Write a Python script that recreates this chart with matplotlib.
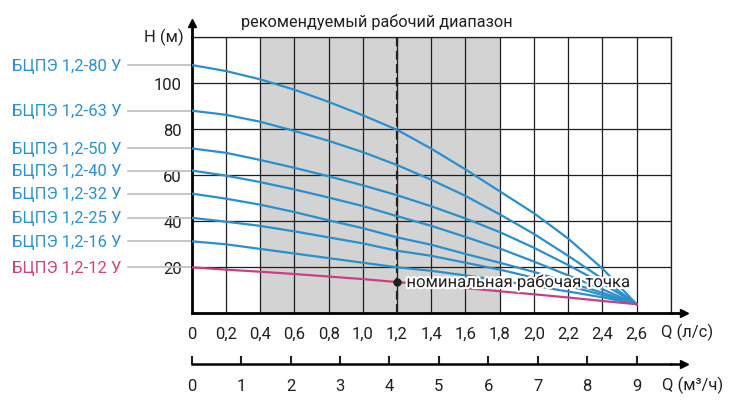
import matplotlib
matplotlib.use("Agg")
import matplotlib.pyplot as plt
import matplotlib.patheffects as pe

# --- Data ---
flow_ls = [0.0, 0.2, 0.4, 0.6, 0.8, 1.0, 1.2, 1.4, 1.6, 1.8, 2.0, 2.2, 2.4, 2.6]

head_80 = [107.8, 105.2, 101.6, 97.1, 91.8, 86.0, 79.7, 71.5, 62.5, 53.0, 43.5, 32.5, 19.5, 4.0]
head_63 = [88.0, 86.2, 83.2, 79.2, 74.9, 70.0, 64.4, 58.0, 51.0, 43.0, 34.5, 25.0, 15.0, 4.0]
head_50 = [71.6, 69.7, 66.6, 63.2, 59.5, 55.6, 51.3, 46.5, 41.2, 35.3, 28.5, 21.0, 13.0, 4.0]
head_40 = [62.0, 59.8, 57.0, 53.8, 50.3, 46.6, 42.2, 38.0, 33.2, 28.2, 22.5, 16.5, 10.5, 4.0]
head_32 = [52.0, 49.8, 47.2, 44.0, 40.4, 37.0, 33.0, 29.8, 25.8, 22.0, 18.0, 13.5, 9.0, 4.0]
head_25 = [41.5, 39.8, 38.0, 35.6, 33.0, 30.4, 27.2, 25.0, 22.0, 19.0, 15.5, 12.0, 8.0, 4.0]
head_16 = [31.3, 30.0, 28.0, 26.0, 24.0, 22.0, 20.0, 18.5, 16.5, 14.3, 12.0, 9.5, 7.0, 4.0]
head_12 = [20.0, 19.0, 18.1, 17.1, 16.0, 14.9, 13.6, 12.3, 11.0, 9.6, 8.3, 6.9, 5.4, 4.0]

models = ["БЦПЭ 1,2-80 У", "БЦПЭ 1,2-63 У", "БЦПЭ 1,2-50 У", "БЦПЭ 1,2-40 У",
          "БЦПЭ 1,2-32 У", "БЦПЭ 1,2-25 У", "БЦПЭ 1,2-16 У", "БЦПЭ 1,2-12 У"]
heads = [head_80, head_63, head_50, head_40, head_32, head_25, head_16, head_12]

flow_ticks = [0, 0.2, 0.4, 0.6, 0.8, 1.0, 1.2, 1.4, 1.6, 1.8, 2.0, 2.2, 2.4, 2.6]
flow_labels = ["0", "0,2", "0,4", "0,6", "0,8", "1,0", "1,2", "1,4", "1,6", "1,8",
               "2,0", "2,2", "2,4", "2,6"]
m3h_ticks = [0, 1, 2, 3, 4, 5, 6, 7, 8, 9]
head_ticks = [20, 40, 60, 80, 100]

range_lo, range_hi = 0.4, 1.8      # recommended working range, l/s
nominal_q, nominal_h = 1.2, 13.6   # nominal duty point

# the catalogue's m3/h scale puts 9 under 2.6 l/s
M3H_PER_LS = 9 / 2.6

# --- Styling ---
BLUE = "#2b8fcc"
PINK = "#c9407f"
LABEL_BLUE = "#2a93d1"
LABEL_PINK = "#d2427f"
DARK = "#231f20"
GRID = "#1c1f26"

plt.rcParams["font.family"] = ["Roboto", "DejaVu Sans"]
plt.rcParams["font.size"] = 12

fig = plt.figure(figsize=(7.3, 4.06), dpi=100)
ax = fig.add_axes([0.2626, 0.2256, 0.6563, 0.681])
ax.set_xlim(0, 2.8)
ax.set_ylim(0, 120)

# recommended range + nominal flow line
ax.axvspan(range_lo, range_hi, color="#d3d3d3", zorder=0.1, lw=0)
ax.axvline(nominal_q, color=DARK, lw=1.6, ls=(0, (4, 2)), zorder=3)

# grid
ax.set_axisbelow(True)
ax.set_xticks(flow_ticks + [2.8])
ax.set_xticklabels(flow_labels + [""])
ax.set_yticks(head_ticks + [120])
ax.set_yticklabels([str(t) for t in head_ticks] + [""])
ax.grid(True, color=GRID, lw=0.9)
ax.tick_params(axis="both", length=0, colors=DARK, labelsize=12)
ax.tick_params(axis="x", pad=9)
ax.tick_params(axis="y", pad=7)
for t in ax.get_yticklabels():
    t.set_bbox(dict(facecolor="white", edgecolor="none", pad=1))

for side in ("top", "right"):
    ax.spines[side].set_color(GRID)
    ax.spines[side].set_linewidth(0.9)
for side in ("left", "bottom"):
    ax.spines[side].set_color("black")
    ax.spines[side].set_linewidth(2)

# axis arrows
ax.plot([2.8, 2.88], [0, 0], color="black", lw=2, clip_on=False)
ax.plot([2.88], [0], marker=">", color="black", ms=6, clip_on=False)
ax.plot([0, 0], [120, 126], color="black", lw=2, clip_on=False)
ax.plot([0], [126], marker="^", color="black", ms=6, clip_on=False)

# pump curves with labels on the left
for name, h in zip(models, heads):
    is_pink = name.endswith("12 У")
    ax.plot(flow_ls, h, color=PINK if is_pink else BLUE, lw=1.6, zorder=4)
    ax.plot([-0.372, 0], [h[0], h[0]], color="#b8bfc6", lw=1.2, clip_on=False, zorder=1)
    ax.text(-0.41, h[0], name, ha="right", va="center", fontsize=12,
            color=LABEL_PINK if is_pink else LABEL_BLUE, clip_on=False)

# nominal point
ax.plot([nominal_q], [nominal_h], "o", color=DARK, ms=5, zorder=6)
ax.text(nominal_q + 0.055, nominal_h, "номинальная рабочая точка", ha="left", va="center",
        fontsize=12, color=DARK, zorder=7,
        path_effects=[pe.withStroke(linewidth=3, foreground="white")])

# titles / axis names
ax.text(1.08, 124.9, "рекомендуемый рабочий диапазон", ha="center", va="baseline",
        fontsize=11.7, color=DARK, clip_on=False)
ax.text(-0.045, 120.2, "H (м)", ha="right", va="center", fontsize=12, color=DARK, clip_on=False)
ax.text(2.74, -7.9, "Q (л/с)", ha="left", va="center", fontsize=12, color=DARK, clip_on=False)

# second flow scale in m3/h
sec = ax.secondary_xaxis(-0.183, functions=(lambda q: q * M3H_PER_LS, lambda m: m / M3H_PER_LS))
sec.set_xticks(m3h_ticks)
sec.set_xticklabels([str(t) for t in m3h_ticks])
sec.tick_params(direction="in", length=6, width=1.5, colors=DARK, pad=10, labelsize=12)
sec.spines["bottom"].set_linewidth(1.8)
sec.spines["bottom"].set_color("black")
y_sec = -0.183 * 120
ax.plot([2.8, 2.88], [y_sec, y_sec], color="black", lw=1.8, clip_on=False)
ax.plot([2.88], [y_sec], marker=">", color="black", ms=6, clip_on=False)
ax.text(2.75, -30.6, "Q (м³/ч)", ha="left", va="center", fontsize=12, color=DARK, clip_on=False)

fig.savefig("out.png", dpi=100)
